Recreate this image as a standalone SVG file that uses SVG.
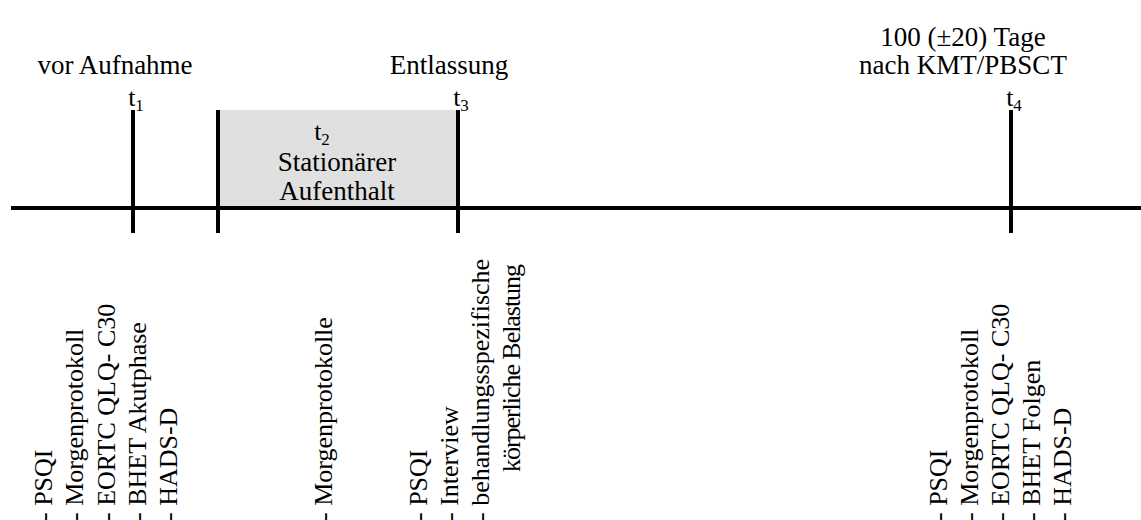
<svg xmlns="http://www.w3.org/2000/svg" width="1141" height="520" viewBox="0 0 1141 520">
<style>
text{font-family:"Liberation Serif","Times New Roman",serif;fill:#000}
.lbl{font-size:27px;text-anchor:middle}
.tk{font-size:26px;text-anchor:middle}
.sub{font-size:17px}
.vt{font-size:26px}
.ln{stroke:#000;stroke-width:4;fill:none}
</style>
<rect width="1141" height="520" fill="#fff"/>
<g id="t2-box">
<rect x="220" y="110" width="236" height="96" fill="#e0e0e0"/>
<text class="tk" x="322" y="140">t<tspan class="sub" dy="5">2</tspan></text>
<text class="lbl" x="337" y="171">Stationärer</text>
<text class="lbl" x="337" y="200">Aufenthalt</text>
</g>
<g id="connectors">
<line class="ln" x1="11" y1="208" x2="1141" y2="208"/>
<line class="ln" x1="133" y1="110" x2="133" y2="233"/>
<line class="ln" x1="218" y1="110" x2="218" y2="233"/>
<line class="ln" x1="458" y1="110" x2="458" y2="233"/>
<line class="ln" x1="1011" y1="110" x2="1011" y2="233"/>
</g>
<g id="t1">
<text class="lbl" x="115" y="74">vor Aufnahme</text>
<text class="tk" x="136" y="106">t<tspan class="sub" dy="5">1</tspan></text>
</g>
<g id="t3">
<text class="lbl" x="449" y="74">Entlassung</text>
<text class="tk" x="461" y="106">t<tspan class="sub" dy="5">3</tspan></text>
</g>
<g id="t4">
<text class="lbl" x="963" y="46">100 (±20) Tage</text>
<text class="lbl" x="963" y="74">nach KMT/PBSCT</text>
<text class="tk" x="1014" y="106">t<tspan class="sub" dy="5">4</tspan></text>
</g>
<g id="list-t1">
<text class="vt" transform="translate(52,521) rotate(-90)">- PSQI</text>
<text class="vt" transform="translate(83,521) rotate(-90)">- Morgenprotokoll</text>
<text class="vt" transform="translate(115,521) rotate(-90)">- EORTC QLQ- C30</text>
<text class="vt" transform="translate(146,521) rotate(-90)">- BHET Akutphase</text>
<text class="vt" transform="translate(177,521) rotate(-90)">- HADS-D</text>
</g>
<g id="list-t2">
<text class="vt" transform="translate(332,521) rotate(-90)">- Morgenprotokolle</text>
</g>
<g id="list-t3">
<text class="vt" transform="translate(427,521) rotate(-90)">- PSQI</text>
<text class="vt" transform="translate(458,521) rotate(-90)">- Interview</text>
<text class="vt" transform="translate(489,521) rotate(-90)">- behandlungsspezifische</text>
<text class="vt" transform="translate(520,472) rotate(-90)" textLength="208" lengthAdjust="spacing">körperliche Belastung</text>
</g>
<g id="list-t4">
<text class="vt" transform="translate(947,521) rotate(-90)">- PSQI</text>
<text class="vt" transform="translate(978,521) rotate(-90)">- Morgenprotokoll</text>
<text class="vt" transform="translate(1009,521) rotate(-90)">- EORTC QLQ- C30</text>
<text class="vt" transform="translate(1040,521) rotate(-90)">- BHET Folgen</text>
<text class="vt" transform="translate(1071,521) rotate(-90)">- HADS-D</text>
</g>
</svg>
